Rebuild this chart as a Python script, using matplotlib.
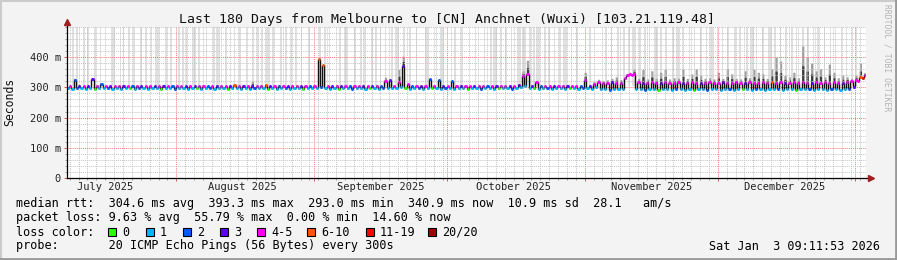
import datetime as dt
import matplotlib
matplotlib.use("Agg")
import matplotlib.pyplot as plt
import matplotlib.dates as mdates
import matplotlib.ticker as mticker
from matplotlib.collections import LineCollection
from matplotlib.patches import Rectangle
from matplotlib.lines import Line2D
import numpy as np

# ---------------- data ----------------
title = "Last 180 Days from Melbourne to [CN] Anchnet (Wuxi) [103.21.119.48]"
end_time = dt.datetime(2026, 1, 3, 9, 11, 53)
n_days = 180

# median rtt (ms), one low and one high reading per day
median_lo = [
    297, 296, 297, 298, 296, 297, 296, 297, 298, 297, 296, 297, 296, 298, 297, 296, 297, 297, 296, 298,
    297, 296, 297, 298, 296, 297, 297, 296, 298, 297, 296, 297, 298, 296, 297, 297, 296, 297, 298, 296,
    297, 296, 297, 298, 297, 296, 297, 296, 298, 297, 296, 297, 297, 296, 298, 297, 298, 300, 297, 296,
    297, 296, 298, 297, 296, 297, 297, 296, 298, 297, 296, 298, 299, 297, 298, 302, 297, 296, 297, 298,
    296, 297, 298, 297, 296, 298, 297, 296, 297, 298, 296, 297, 297, 296, 298, 297, 296, 297, 298, 297,
    296, 298, 300, 305, 298, 297, 296, 297, 298, 296, 297, 297, 296, 298, 297, 296, 298, 297, 296, 300,
    294, 295, 293, 294, 295, 296, 340, 342, 296, 294, 293, 295, 294, 293, 295, 294, 293, 294, 295, 293,
    294, 293, 295, 294, 293, 294, 295, 293, 294, 295, 293, 294, 295, 294, 293, 294, 295, 293, 294, 295,
    294, 293, 295, 294, 293, 294, 295, 294, 293, 295, 294, 293, 294, 295, 293, 294, 296, 300, 320, 330,
]
median_hi = [
    305, 325, 306, 304, 305, 328, 306, 312, 305, 306, 304, 305, 306, 305, 304, 306, 305, 304, 306, 305,
    304, 306, 305, 305, 306, 304, 305, 306, 304, 305, 306, 305, 304, 306, 305, 304, 306, 307, 305, 304,
    306, 305, 304, 306, 307, 305, 304, 306, 305, 304, 306, 305, 304, 306, 305, 306, 393, 373, 305, 304,
    306, 305, 304, 306, 305, 304, 306, 305, 304, 306, 305, 320, 325, 306, 318, 371, 310, 305, 306, 304,
    305, 328, 306, 325, 305, 304, 320, 305, 306, 304, 305, 306, 305, 304, 306, 305, 304, 306, 305, 306,
    305, 307, 338, 345, 306, 317, 305, 304, 306, 305, 304, 306, 305, 304, 306, 305, 325, 306, 310, 318,
    314, 316, 317, 315, 316, 330, 344, 345, 318, 316, 315, 317, 316, 314, 317, 316, 315, 317, 316, 315,
    317, 316, 315, 316, 317, 315, 316, 317, 315, 316, 317, 316, 315, 317, 316, 315, 317, 316, 318, 316,
    317, 316, 315, 317, 316, 318, 316, 315, 317, 316, 318, 316, 317, 315, 316, 318, 320, 325, 333, 341,
]
# loss category index (into loss_labels) for each reading
loss_lo = [
    1, 1, 2, 1, 1, 1, 0, 1, 1, 2, 1, 1, 1, 1, 0, 1, 2, 1, 1, 1,
    1, 0, 1, 1, 2, 1, 1, 1, 1, 0, 1, 1, 2, 1, 1, 1, 0, 1, 1, 1,
    1, 1, 2, 1, 1, 0, 1, 1, 1, 2, 1, 1, 1, 0, 1, 1, 1, 2, 1, 1,
    1, 0, 1, 1, 2, 1, 1, 1, 0, 1, 1, 2, 1, 1, 1, 1, 0, 1, 1, 2,
    1, 1, 0, 1, 1, 2, 1, 1, 1, 1, 0, 1, 1, 2, 1, 1, 1, 0, 1, 1,
    2, 1, 1, 1, 1, 0, 1, 1, 2, 1, 1, 1, 1, 0, 1, 1, 2, 1, 1, 1,
    1, 1, 2, 1, 1, 1, 4, 4, 1, 1, 2, 1, 1, 0, 1, 1, 1, 2, 1, 1,
    1, 0, 1, 1, 2, 1, 1, 1, 1, 2, 1, 1, 0, 1, 1, 2, 1, 1, 1, 1,
    2, 1, 1, 1, 0, 1, 1, 2, 1, 1, 1, 1, 2, 1, 1, 1, 2, 3, 4, 6,
]
loss_hi = [
    4, 2, 3, 4, 3, 3, 4, 2, 4, 3, 4, 4, 3, 4, 2, 4, 3, 4, 4, 3,
    4, 3, 4, 2, 4, 4, 3, 4, 3, 4, 4, 2, 4, 3, 4, 4, 3, 5, 4, 3,
    4, 3, 4, 4, 5, 3, 4, 2, 4, 3, 4, 4, 3, 4, 2, 4, 5, 5, 4, 3,
    4, 3, 4, 2, 4, 4, 3, 4, 3, 4, 2, 4, 3, 4, 4, 3, 4, 2, 4, 3,
    4, 2, 4, 2, 3, 4, 2, 4, 3, 4, 4, 3, 4, 4, 2, 4, 3, 4, 4, 3,
    4, 3, 4, 4, 3, 4, 2, 4, 4, 3, 4, 4, 3, 4, 4, 2, 4, 3, 4, 4,
    4, 4, 3, 4, 4, 4, 4, 4, 4, 3, 4, 4, 4, 3, 4, 4, 4, 4, 3, 4,
    4, 4, 3, 4, 4, 4, 4, 3, 4, 4, 4, 4, 3, 4, 4, 4, 4, 4, 5, 4,
    4, 3, 4, 4, 4, 4, 4, 3, 4, 4, 4, 4, 4, 4, 3, 4, 4, 4, 5, 4,
]
# top of the ping "smoke" per day (ms)
smoke_hi = [
    307, 330, 308, 306, 307, 332, 308, 314, 307, 308, 306, 307, 308, 307, 306, 308, 307, 306, 308, 307,
    306, 308, 307, 307, 308, 306, 307, 308, 306, 307, 308, 307, 306, 308, 307, 306, 308, 312, 307, 306,
    308, 320, 306, 308, 312, 307, 306, 308, 307, 306, 308, 307, 306, 308, 307, 308, 397, 375, 307, 306,
    308, 307, 306, 308, 307, 306, 308, 307, 306, 308, 307, 334, 328, 308, 360, 403, 315, 307, 308, 306,
    307, 330, 308, 327, 307, 306, 322, 307, 308, 306, 307, 308, 307, 306, 308, 307, 306, 308, 307, 308,
    307, 312, 355, 390, 308, 320, 307, 306, 308, 307, 306, 308, 307, 306, 308, 307, 350, 308, 320, 327,
    322, 325, 330, 335, 326, 332, 350, 360, 330, 359, 328, 355, 330, 350, 360, 328, 332, 330, 361, 330,
    345, 361, 340, 330, 332, 328, 350, 330, 362, 345, 330, 328, 355, 332, 360, 350, 345, 330, 362, 400,
    388, 340, 335, 350, 332, 437, 400, 380, 355, 362, 335, 377, 350, 332, 340, 335, 330, 340, 380, 350,
]
# light full-height stripes (day offset from start, width in days)
gap_days = [
    1.35, 2.25, 3.8, 4.7, 6.3, 7.6, 10.4, 12.0, 12.8, 14.0, 15.1, 16.7, 17.8, 19.1, 20.3, 22.3, 23.4,
    25.2, 26.1, 27.0, 28.6, 29.7, 31.5, 33.1, 34.0, 35.8, 37.8, 39.0, 40.5, 41.9, 43.0, 43.9, 45.3,
    46.4, 48.2, 49.3, 50.5, 51.6, 52.9, 54.5,
    57.0, 58.1, 59.2, 61.5, 62.8, 64.9, 66.2, 67.1, 68.7, 69.6, 70.7, 71.8, 73.2, 74.3, 75.9, 77.3,
    78.8, 81.1, 83.3, 84.5,
    87.4, 89.0, 92.1, 94.1, 95.5, 96.4, 97.8, 98.9, 100.2, 101.8, 103.0, 104.3, 105.2, 106.1, 107.7,
    108.6, 109.9, 111.1, 112.2, 113.7, 114.9, 117.8,
    121.4, 122.7, 124.1, 125.5, 126.6, 127.7, 129.1, 130.2, 131.3, 132.7, 133.8, 135.1, 136.5, 137.6,
    138.9, 140.3, 141.4, 142.8, 144.1, 145.3,
    146.6, 147.7, 148.9, 150.5, 151.6, 153.2, 154.3, 155.4, 156.8, 158.4, 159.5, 160.8, 162.0, 163.3,
    164.4, 165.8, 166.9, 168.2, 169.3, 170.7, 172.0, 173.1, 174.5, 175.6, 176.9, 177.8,
]
gap_width = [
    0.3, 0.3, 0.3, 0.3, 0.3, 0.3, 0.8, 0.3, 0.3, 0.3, 0.3, 0.3, 0.3, 0.3, 0.8, 0.3, 0.3,
    0.3, 0.3, 0.3, 0.8, 0.3, 0.3, 0.3, 0.8, 0.3, 0.3, 0.3, 0.3, 0.3, 0.3, 0.3, 0.8,
    0.3, 0.3, 0.3, 0.3, 0.3, 0.3, 0.3,
    0.3, 0.3, 0.3, 0.3, 0.8, 0.3, 0.3, 0.3, 0.3, 0.3, 0.3, 0.3, 0.3, 0.8, 0.3, 0.3,
    0.3, 0.8, 0.3, 0.8,
    0.3, 0.3, 0.3, 0.3, 0.3, 0.8, 0.3, 0.3, 0.3, 0.8, 0.8, 0.3, 0.3, 0.8, 0.3,
    0.3, 0.3, 0.3, 0.8, 0.3, 0.3, 0.3,
    0.3, 0.3, 0.3, 0.3, 0.3, 0.8, 0.3, 0.3, 0.3, 0.8, 0.3, 0.3, 0.3, 0.8,
    0.3, 0.3, 0.3, 0.3, 0.3, 0.8,
    0.3, 0.3, 0.3, 0.3, 0.3, 0.3, 0.8, 0.3, 0.3, 0.8, 0.3, 0.3, 0.3, 0.3,
    0.3, 0.3, 0.3, 0.3, 0.8, 0.3, 0.3, 0.3, 0.3, 0.3, 0.3, 0.3,
]

loss_labels = ["0", "1", "2", "3", "4-5", "6-10", "11-19", "20/20"]
loss_colors = ["#26ff00", "#00b8ff", "#0059ff", "#5e00ff", "#ff00ff", "#ff5500", "#ff0000", "#a00000"]
month_labels = ["July 2025", "August 2025", "September 2025", "October 2025",
                "November 2025", "December 2025"]
month_label_dates = [dt.datetime(2025, m, 16) for m in range(7, 13)]
y_ticks = [0, 100, 200, 300, 400]

stats_rtt = "median rtt:  304.6 ms avg  393.3 ms max  293.0 ms min  340.9 ms now  10.9 ms sd  28.1   am/s"
stats_loss = "packet loss: 9.63 % avg  55.79 % max  0.00 % min  14.60 % now"
probe_line = "probe:       20 ICMP Echo Pings (56 Bytes) every 300s"
stamp = "Sat Jan  3 09:11:53 2026"

# ---------------- figure ----------------
W, H = 897, 260
plt.rcParams["font.family"] = ["DejaVu Sans Mono"]
fig = plt.figure(figsize=(W / 100, H / 100), dpi=100, facecolor="#f3f3f3")
L, R, T, B = 67, 866, 27, 178
ax = fig.add_axes([L / W, 1 - B / H, (R - L) / W, (B - T) / H])
ax.set_facecolor("white")

start = mdates.date2num(end_time - dt.timedelta(days=n_days))
day = np.arange(n_days)
xs = np.column_stack((start + day + 0.25, start + day + 0.75)).ravel()
med = np.column_stack((median_lo, median_hi)).ravel().astype(float)
code = np.column_stack((loss_lo, loss_hi)).ravel()
smoke = np.column_stack((median_lo, smoke_hi)).ravel().astype(float)

# stripes
ax.bar(start + np.array(gap_days), 500 - 304, bottom=304, width=gap_width,
       color="#e0e0e0", lw=0, zorder=0.5)

# smoke
ax.fill_between(xs, med, smoke, step="mid", color="#a0a0a0", lw=0, zorder=1)
ax.fill_between(xs, med - 2, med + 0.45 * (smoke - med), step="mid",
                color="#3c3c3c", lw=0, zorder=1.1)

# median line: coloured flats + dark risers
flats = [[(x - 0.25, y), (x + 0.25, y)] for x, y in zip(xs, med)]
risers = [[(xs[i] + 0.25, med[i]), (xs[i] + 0.25, med[i + 1])] for i in range(len(xs) - 1)]
ax.add_collection(LineCollection(risers, colors="#111111", linewidths=1.0, zorder=3))
ax.add_collection(LineCollection(flats, colors=[loss_colors[c] for c in code],
                                 linewidths=2.1, zorder=3.2, capstyle="butt"))

ax.set_xlim(start, start + n_days)
ax.set_ylim(0, 500)

# grid
ax.xaxis.set_major_locator(mdates.MonthLocator())
ax.xaxis.set_minor_locator(mdates.DayLocator(interval=2))
ax.xaxis.set_major_formatter(mticker.NullFormatter())
ax.yaxis.set_major_locator(mticker.FixedLocator(y_ticks))
ax.yaxis.set_minor_locator(mticker.MultipleLocator(20))
ax.yaxis.set_major_formatter(mticker.FuncFormatter(lambda v, p: "0" if v == 0 else f"{int(v)} m"))
ax.grid(which="major", color=(1, 0.45, 0.45, 0.5), linestyle=(0, (1, 1)), lw=0.7)
ax.grid(which="minor", color="#c4c4c4", linestyle=(0, (1, 1)), lw=0.7)
ax.set_axisbelow(False)
for s in ax.spines.values():
    s.set_visible(False)
ax.tick_params(which="major", length=2.5, width=0.7, color="#d06060", labelsize=7.5,
               labelcolor="#222222", pad=2)
ax.tick_params(which="minor", length=1.5, width=0.6, color="#909090")
ax.tick_params(axis="x", which="both", labelbottom=False)

# axes with arrows
ax.plot([0, 1.006], [0, 0], transform=ax.transAxes, clip_on=False, color="black", lw=0.9, zorder=5)
ax.plot([0, 0], [0, 1.03], transform=ax.transAxes, clip_on=False, color="black", lw=0.9, zorder=5)
ax.plot([1.006], [0], marker=">", ms=4, color="#a02020", mec="#a02020",
        transform=ax.transAxes, clip_on=False, zorder=6)
ax.plot([0], [1.035], marker="^", ms=4, color="#a02020", mec="#a02020",
        transform=ax.transAxes, clip_on=False, zorder=6)

# month labels
for d, lab in zip(month_label_dates, month_labels):
    xf = (mdates.date2num(d) - start) / n_days
    fig.text((L + xf * (R - L)) / W, 1 - 187 / H, lab, ha="center", va="center",
             fontsize=7.5, color="#222222")

# title and side texts
fig.text(447 / W, 1 - 19 / H, title, ha="center", va="center", fontsize=9.5, color="#111111")
fig.text(10 / W, 1 - 102 / H, "Seconds", rotation=90, ha="center", va="center",
         fontsize=8.3, color="#111111")
fig.text(887 / W, 1 - 58 / H, "RRDTOOL / TOBI OETIKER", rotation=270, ha="center",
         va="center", fontsize=5.8, color="#b4b4b4")

# legend rows
fs = 8.5
fig.text(16 / W, 1 - 204 / H, stats_rtt, ha="left", va="center", fontsize=fs)
fig.text(16 / W, 1 - 218 / H, stats_loss, ha="left", va="center", fontsize=fs)
fig.text(16 / W, 1 - 232 / H, "loss color:", ha="left", va="center", fontsize=fs)
fig.text(16 / W, 1 - 246 / H, probe_line, ha="left", va="center", fontsize=fs)
fig.text(880 / W, 1 - 246 / H, stamp, ha="right", va="center", fontsize=fs)
box_x = [108, 146, 183, 220, 257, 307, 366, 428]
for bx, lab, col in zip(box_x, loss_labels, loss_colors):
    fig.add_artist(Rectangle((bx / W, 1 - 236 / H), 8 / W, 8 / H, transform=fig.transFigure,
                             facecolor=col, edgecolor="black", lw=0.8))
    fig.text((bx + 14) / W, 1 - 232 / H, lab, ha="left", va="center", fontsize=fs)

# frame
fig.add_artist(Line2D([0, 1], [1 - 0.5 / H, 1 - 0.5 / H], transform=fig.transFigure, color="#cbcbcb", lw=1.5))
fig.add_artist(Line2D([0.5 / W, 0.5 / W], [0, 1], transform=fig.transFigure, color="#cbcbcb", lw=1.5))
fig.add_artist(Line2D([0, 1], [1.5 / H, 1.5 / H], transform=fig.transFigure, color="#999999", lw=2))
fig.add_artist(Line2D([1 - 1.5 / W, 1 - 1.5 / W], [0, 1], transform=fig.transFigure, color="#999999", lw=2))

fig.savefig("out.png", dpi=100, facecolor=fig.get_facecolor())
